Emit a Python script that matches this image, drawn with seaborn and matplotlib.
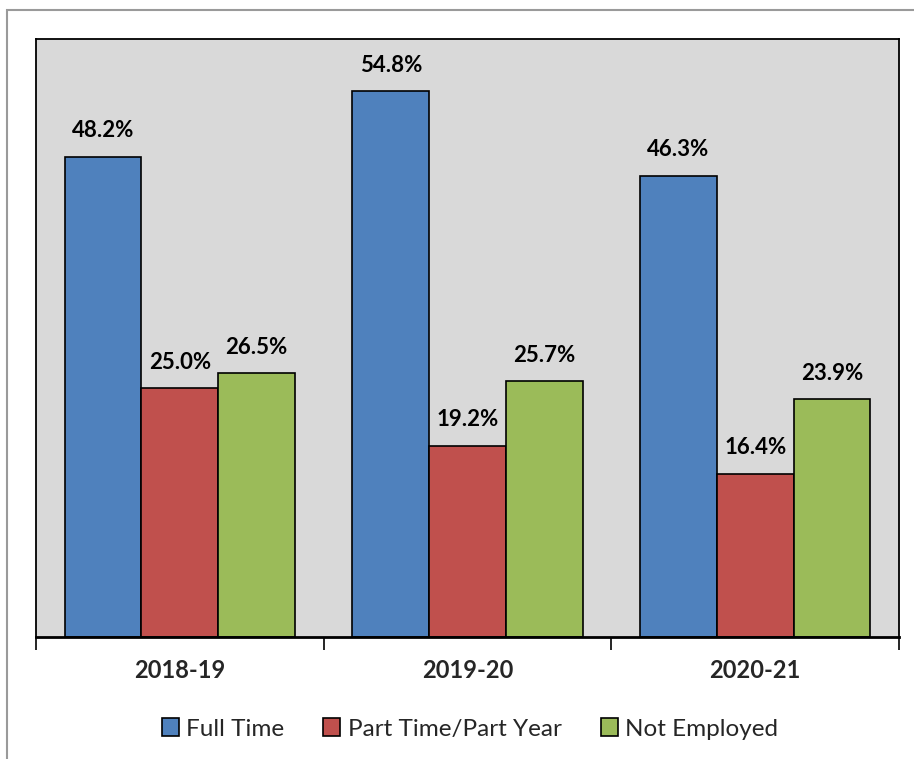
import matplotlib
matplotlib.use("Agg")
import matplotlib.pyplot as plt
from matplotlib.patches import Patch, Rectangle
import seaborn as sns
import pandas as pd

years = ["2018-19", "2019-20", "2020-21"]
statuses = ["Full Time", "Part Time/Part Year", "Not Employed"]
full_time = [48.2, 54.8, 46.3]
part_time = [25.0, 19.2, 16.4]
not_employed = [26.5, 25.7, 23.9]
colors = ["#4F81BD", "#C0504D", "#9BBB59"]

rows = []
for status, vals in zip(statuses, [full_time, part_time, not_employed]):
    for yr, v in zip(years, vals):
        rows.append({"year": yr, "status": status, "value": v})
df = pd.DataFrame(rows)

sns.set_theme(style="white")
plt.rcParams["font.family"] = ["Lato", "DejaVu Sans"]

fig = plt.figure(figsize=(9.14, 7.59), dpi=100)
ax = fig.add_axes([36 / 914, 1 - 637 / 759, (899 - 36) / 914, (637 - 39) / 759])
ax.set_facecolor("#D9D9D9")

sns.barplot(data=df, x="year", y="value", hue="status", hue_order=statuses,
            palette=colors, saturation=1, edgecolor="black", linewidth=1.2,
            width=0.8, gap=0, legend=False, ax=ax)

for container in ax.containers:
    for bar in container:
        h = bar.get_height()
        ax.annotate(f"{h:.1f}%", (bar.get_x() + bar.get_width() / 2, h),
                    xytext=(0, 11), textcoords="offset points",
                    ha="center", va="bottom", fontsize=16, fontweight="bold",
                    color="black")

ax.set_ylim(0, 60)
ax.set_xlim(-0.5, 2.5)
ax.set_yticks([])
ax.set_xlabel("")
ax.set_ylabel("")
ax.set_xticks([0, 1, 2])
ax.set_xticklabels(years, fontsize=17, fontweight="bold")
ax.set_xticks([-0.5, 0.5, 1.5, 2.5], minor=True)
ax.tick_params(axis="x", which="major", length=0, pad=16)
ax.tick_params(axis="x", which="minor", length=9, width=1.2, color="black",
               bottom=True)
for spine in ax.spines.values():
    spine.set_visible(True)
    spine.set_color("black")
    spine.set_linewidth(1.3)
ax.spines["bottom"].set_linewidth(2)

handles = [Patch(facecolor=c, edgecolor="black", linewidth=1.2) for c in colors]
fig.legend(handles, statuses, loc="center", bbox_to_anchor=(470 / 914, 1 - 729 / 759),
           ncol=3, frameon=False, fontsize=17.5, handlelength=0.7, handleheight=0.75,
           handletextpad=0.3, columnspacing=1.6)

fig.patches.append(Rectangle((7 / 914, -0.2), 1.2, (759 - 10) / 759 + 0.2,
                             transform=fig.transFigure, fill=False,
                             edgecolor="#9A9A9A", linewidth=1.5))

fig.savefig("out.png", dpi=100)
